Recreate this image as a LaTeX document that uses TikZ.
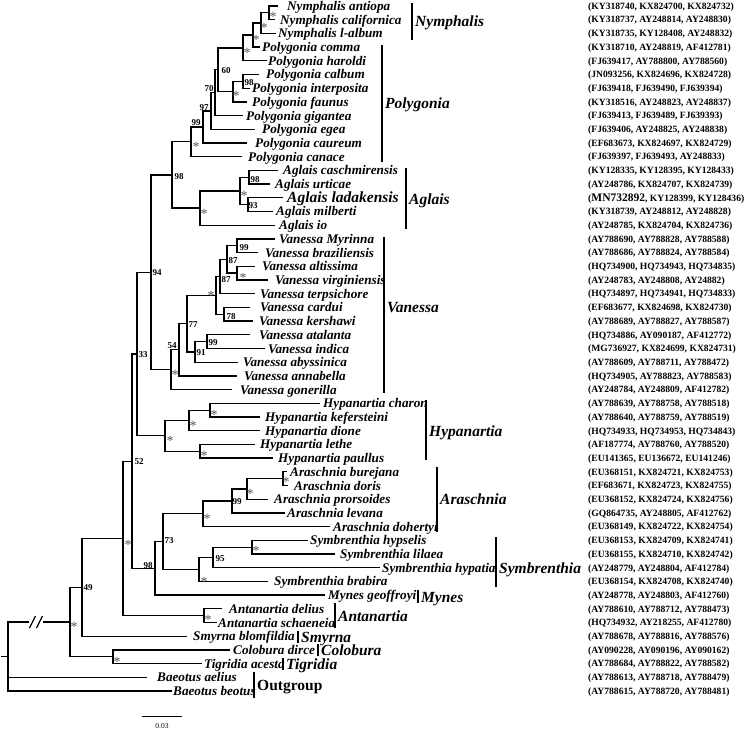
\documentclass[tikz,border=0pt]{standalone}
\usepackage{fontspec}
\setmainfont{Liberation Serif}
\usetikzlibrary{positioning}
\definecolor{stargray}{RGB}{85,85,85}
\newcommand{\rowy}[1]{6+13.7*(#1-1)}
\newcommand{\leaf}[5]{\coordinate (#1) at (#3,{\rowy{#2}}); \node[taxon] (#1l) at (#4,{\rowy{#2}}) {#5};}
\newcommand{\acc}[2]{\node[accno] (a#1) at (588,{\rowy{#1}}) {(#2)};}
\newcommand{\cladepair}[3]{\draw[branch] (#2) -| (#1) |- (#3);}
\newcommand{\bsv}[4]{\node[bsval] (#1) at (#2,#3) {#4};}
\newcommand{\bss}[3]{\node[bsstar] (#1) at (#2,#3) {*};}
\newcommand{\cladebar}[6]{\draw[cbar] (#2,#3) coordinate (#1t) -- (#2,#4) coordinate (#1b); \node[cladelab] (#1) at (#2+3,#5) {#6};}

\begin{document}
\begin{tikzpicture}[x=1pt,y=-1pt,
  branch/.style={line width=1.3pt,line join=miter},
  cbar/.style={line width=1.4pt},
  taxon/.style={anchor=base west,inner sep=0pt,yshift=-4.5pt,font=\fontsize{13.2}{15}\selectfont\bfseries\itshape},
  accno/.style={anchor=base west,inner sep=0pt,yshift=-3.3pt,font=\fontsize{9.6}{11}\selectfont\bfseries},
  cladelab/.style={anchor=base west,inner sep=0pt,yshift=-5.3pt,font=\fontsize{15.5}{17}\selectfont\bfseries\itshape},
  bsval/.style={inner sep=0pt,font=\fontsize{9}{10}\selectfont\bfseries},
  bsstar/.style={inner sep=0pt,yshift=-2.5pt,text=stargray,font=\fontsize{14}{14}\selectfont}]
\useasboundingbox (0,0) rectangle (745,730);

\leaf{tAnt}{1}{278}{287}{Nymphalis antiopa}
\leaf{tCal}{2}{275}{280}{Nymphalis californica}
\leaf{tLal}{3}{276}{278}{Nymphalis l-album}
\leaf{tCom}{4}{260}{262}{Polygonia comma}
\leaf{tHar}{5}{267}{268}{Polygonia haroldi}
\leaf{tCab}{6}{259}{266}{Polygonia calbum}
\leaf{tInt}{7}{250}{252}{Polygonia interposita}
\leaf{tFau}{8}{247}{252}{Polygonia faunus}
\leaf{tGig}{9}{243}{246}{Polygonia gigantea}
\leaf{tEge}{10}{255}{262}{Polygonia egea}
\leaf{tCau}{11}{247}{255}{Polygonia caureum}
\leaf{tCan}{12}{242}{248}{Polygonia canace}
\leaf{tCas}{13}{278}{283}{Aglais caschmirensis}
\leaf{tUrt}{14}{270}{275}{Aglais urticae}
\leaf{tLad}{15}{283}{287}{\fontsize{15.5}{17}\selectfont Aglais ladakensis}
\leaf{tMil}{16}{273}{276}{Aglais milberti}
\leaf{tIo}{17}{275}{279}{Aglais io}
\leaf{tMyr}{18}{275}{279}{Vanessa Myrinna}
\leaf{tBra}{19}{258}{265}{Vanessa braziliensis}
\leaf{tAlt}{20}{255}{262}{Vanessa altissima}
\leaf{tVir}{21}{268}{275}{Vanessa virginiensis}
\leaf{tTer}{22}{255}{260}{Vanessa terpsichore}
\leaf{tCar}{23}{250}{260}{Vanessa cardui}
\leaf{tKer}{24}{253}{259}{Vanessa kershawi}
\leaf{tAta}{25}{250}{259}{Vanessa atalanta}
\leaf{tInd}{26}{265}{268}{Vanessa indica}
\leaf{tAby}{27}{238}{243}{Vanessa abyssinica}
\leaf{tAnn}{28}{237}{244}{Vanessa annabella}
\leaf{tGon}{29}{232}{240}{Vanessa gonerilla}
\leaf{tCha}{30}{320}{323}{Hypanartia charon}
\leaf{tKef}{31}{260}{265}{Hypanartia kefersteini}
\leaf{tDio}{32}{260}{265}{Hypanartia dione}
\leaf{tLet}{33}{255}{260}{Hypanartia lethe}
\leaf{tPau}{34}{273}{278}{Hypanartia paullus}
\leaf{tBur}{35}{287}{290}{Araschnia burejana}
\leaf{tDor}{36}{288}{294}{Araschnia doris}
\leaf{tPro}{37}{268}{274}{Araschnia prorsoides}
\leaf{tLev}{38}{285}{287}{Araschnia levana}
\leaf{tDoh}{39}{330}{333}{Araschnia dohertyi}
\leaf{tHys}{40}{308}{310}{Symbrenthia hypselis}
\leaf{tLil}{41}{335}{340}{Symbrenthia lilaea}
\leaf{tHyp}{42}{380}{382}{Symbrenthia hypatia}
\leaf{tBrb}{43}{268}{274}{Symbrenthia brabira}
\leaf{tMyn}{44}{325}{328}{Mynes geoffroyi}
\leaf{tDel}{45}{222}{229}{Antanartia delius}
\leaf{tSch}{46}{217}{218}{Antanartia schaeneia}
\leaf{tSmy}{47}{187}{193}{Smyrna blomfildia}
\leaf{tCol}{48}{230}{233}{Colobura dirce}
\leaf{tTig}{49}{202}{204}{Tigridia acesta}
\leaf{tAel}{50}{147}{157}{Baeotus aelius}
\leaf{tBeo}{51}{172}{173}{Baeotus beotus}

\coordinate (nAC) at (269,12.85);   \coordinate (nNy) at (261,23.1);
\coordinate (nNc) at (253,35.1);    \coordinate (nNh) at (243,47.95);
\coordinate (nCI) at (243,81.35);   \coordinate (nCF) at (233,91.6);
\coordinate (n60) at (218,69.8);    \coordinate (n70) at (215,92.7);
\coordinate (n97) at (211,111);     \coordinate (n99) at (203,127);
\coordinate (nPol) at (191,141.85);
\coordinate (nCU) at (249,177.25);  \coordinate (nLM) at (248,204.65);
\coordinate (nAg4) at (240,190.95); \coordinate (nAg) at (200,208.1);
\coordinate (n98) at (172,174.95);
\coordinate (nMB) at (237,245.75);  \coordinate (nAV) at (237,273.15);
\coordinate (n87a) at (227,259.45); \coordinate (n87b) at (220,276.6);
\coordinate (nCK) at (224,314.25);  \coordinate (nVc) at (216,295.4);
\coordinate (n99b) at (207,341.65); \coordinate (n91) at (195,351.9);
\coordinate (n77) at (187,323.65);  \coordinate (n54) at (179,349.8);
\coordinate (nVan) at (171,369.7);  \coordinate (n94) at (151,272.3);
\coordinate (nCK2) at (210,410.15); \coordinate (nHd) at (189,420.4);
\coordinate (nLP) at (200,451.25);  \coordinate (nHyp) at (165,435.8);
\coordinate (n33) at (137,354.05);
\coordinate (nBD) at (283,478.65);  \coordinate (nBDP) at (247,488.9);
\coordinate (n99c) at (232,500.9);  \coordinate (nAr) at (203,513.75);
\coordinate (nHL) at (252,547.15);  \coordinate (n95) at (213,557.4);
\coordinate (nSy) at (199,569.4);   \coordinate (n73) at (163,541.6);
\coordinate (n98b) at (155,568.35); \coordinate (n52) at (132,461.2);
\coordinate (nAnt) at (204,615.65); \coordinate (nSt) at (123,538.4);
\coordinate (n49) at (82,587.3);    \coordinate (nCT) at (113,656.75);
\coordinate (nIn) at (70,622);
\coordinate (root) at (8,656.5);    \coordinate (rstem) at (1,656.5);
\coordinate (brkA) at (29,622);     \coordinate (brkB) at (43,622);

\cladepair{nAC}{tAnt}{tCal}
\cladepair{nNy}{nAC}{tLal}
\cladepair{nNc}{nNy}{tCom}
\cladepair{nNh}{nNc}{tHar}
\cladepair{nCI}{tCab}{tInt}
\cladepair{nCF}{nCI}{tFau}
\cladepair{n60}{nNh}{nCF}
\cladepair{n70}{n60}{tGig}
\cladepair{n97}{n70}{tEge}
\cladepair{n99}{n97}{tCau}
\cladepair{nPol}{n99}{tCan}
\cladepair{nCU}{tCas}{tUrt}
\cladepair{nLM}{tLad}{tMil}
\cladepair{nAg4}{nCU}{nLM}
\cladepair{nAg}{nAg4}{tIo}
\cladepair{n98}{nPol}{nAg}
\cladepair{nMB}{tMyr}{tBra}
\cladepair{nAV}{tAlt}{tVir}
\cladepair{n87a}{nMB}{nAV}
\cladepair{n87b}{n87a}{tTer}
\cladepair{nCK}{tCar}{tKer}
\cladepair{nVc}{n87b}{nCK}
\cladepair{n99b}{tAta}{tInd}
\cladepair{n91}{n99b}{tAby}
\cladepair{n77}{nVc}{n91}
\cladepair{n54}{n77}{tAnn}
\cladepair{nVan}{n54}{tGon}
\cladepair{n94}{n98}{nVan}
\cladepair{nCK2}{tCha}{tKef}
\cladepair{nHd}{nCK2}{tDio}
\cladepair{nLP}{tLet}{tPau}
\cladepair{nHyp}{nHd}{nLP}
\cladepair{n33}{n94}{nHyp}
\cladepair{nBD}{tBur}{tDor}
\cladepair{nBDP}{nBD}{tPro}
\cladepair{n99c}{nBDP}{tLev}
\cladepair{nAr}{n99c}{tDoh}
\cladepair{nHL}{tHys}{tLil}
\cladepair{n95}{nHL}{tHyp}
\cladepair{nSy}{n95}{tBrb}
\cladepair{n73}{nAr}{nSy}
\cladepair{n98b}{n73}{tMyn}
\cladepair{n52}{n33}{n98b}
\cladepair{nAnt}{tDel}{tSch}
\cladepair{nSt}{n52}{nAnt}
\cladepair{n49}{nSt}{tSmy}
\cladepair{nCT}{tCol}{tTig}
\cladepair{nIn}{n49}{nCT}
\draw[branch] (brkA) -| (root) |- (tBeo);
\draw[branch] (root) |- (tAel);
\draw[branch] (rstem) -- (root);
\draw[branch] (brkB) -- (nIn);
\draw[branch] ([xshift=0.5pt,yshift=-6pt]brkA) -- ([xshift=6.5pt,yshift=6pt]brkA);
\draw[branch] ([xshift=-6.5pt,yshift=-6pt]brkB) -- ([xshift=-0.5pt,yshift=6pt]brkB);

% support values
\bss{sAC}{273}{14}   \bss{sNy}{264}{25}   \bss{sNc}{256}{37}   \bss{sNh}{247}{50}
\bsv{sCI}{249}{83}{98}  \bss{sCF}{236}{93}
\bsv{s60}{226}{71}{60}  \bsv{s70}{209}{89}{70}
\bsv{s97}{204}{108}{97} \bsv{s99}{196}{123}{99} \bss{sPol}{196}{144}
\bsv{sCU}{255}{180}{98} \bsv{sLM}{253}{206}{93}
\bss{sAg4}{244}{193}    \bss{sAg}{204}{211}
\bsv{s98}{179}{177}{98} \bsv{s94}{157}{273}{94}
\bsv{sMB}{244}{248}{99} \bss{sAV}{243}{275}
\bsv{s87a}{233}{261}{87} \bsv{s87b}{226}{280}{87}
\bsv{sCK}{231}{317}{78} \bss{sVc}{211}{293}
\bsv{s99b}{213}{343}{99} \bsv{s91}{201}{353}{91}
\bsv{s77}{193}{325}{77} \bsv{s54}{172}{346}{54} \bss{sVan}{175}{372}
\bss{sCK2}{214}{412} \bss{sHd}{193}{423} \bss{sLP}{204}{453} \bss{sHyp}{170}{438}
\bsv{s33}{143}{355}{33} \bsv{s52}{139}{462}{52}
\bss{sBD}{286}{479} \bss{sBDP}{250}{491} \bsv{s99c}{237}{502}{99} \bss{sAr}{207}{516}
\bss{sHL}{256}{548} \bsv{s95}{220}{559}{95} \bss{sSy}{204}{579}
\bsv{s73}{169}{541}{73} \bsv{s98b}{148}{566}{98} \bss{sSt}{128}{542}
\bss{sAnt}{208}{617} \bsv{s49}{88}{588}{49} \bss{sIn}{74}{624} \bss{sCT}{117}{659}

% clade bars
\cladebar{cNym}{412}{3}{40}{21}{Nymphalis}
\cladebar{cPol}{382}{45}{162}{103}{Polygonia}
\cladebar{cAgl}{406}{168}{229}{199}{Aglais}
\cladebar{cVan}{384}{237}{393}{307}{Vanessa}
\cladebar{cHyp}{426}{400}{460}{431}{Hypanartia}
\cladebar{cAra}{437}{467}{532}{499}{Araschnia}
\cladebar{cSym}{496}{537}{587}{568}{Symbrenthia}
\cladebar{cMyn}{418}{590}{603}{597}{Mynes}
\cladebar{cAnt}{335}{603}{628}{616}{Antanartia}
\cladebar{cSmy}{298}{631}{643}{637}{Smyrna}
\cladebar{cCol}{318}{644}{656}{650}{Colobura}
\cladebar{cTig}{283}{658}{670}{664}{Tigridia}
\cladebar{cOut}{254}{672}{698}{685}{\upshape Outgroup}

\acc{1}{KY318740, KX824700, KX824732}
\acc{2}{KY318737, AY248814, AY248830}
\acc{3}{KY318735, KY128408, AY248832}
\acc{4}{KY318710, AY248819, AF412781}
\acc{5}{FJ639417, AY788800, AY788560}
\acc{6}{JN093256, KX824696, KX824728}
\acc{7}{FJ639418, FJ639490, FJ639394}
\acc{8}{KY318516, AY248823, AY248837}
\acc{9}{FJ639413, FJ639489, FJ639393}
\acc{10}{FJ639406, AY248825, AY248838}
\acc{11}{EF683673, KX824697, KX824729}
\acc{12}{FJ639397, FJ639493, AY248833}
\acc{13}{KY128335, KY128395, KY128433}
\acc{14}{AY248786, KX824707, KX824739}
\acc{15}{{\fontsize{11.5}{12}\selectfont MN732892}, KY128399, KY128436}
\acc{16}{KY318739, AY248812, AY248828}
\acc{17}{AY248785, KX824704, KX824736}
\acc{18}{AY788690, AY788828, AY788588}
\acc{19}{AY788686, AY788824, AY788584}
\acc{20}{HQ734900, HQ734943, HQ734835}
\acc{21}{AY248783, AY248808, AY24882}
\acc{22}{HQ734897, HQ734941, HQ734833}
\acc{23}{EF683677, KX824698, KX824730}
\acc{24}{AY788689, AY788827, AY788587}
\acc{25}{HQ734886, AY090187, AF412772}
\acc{26}{MG736927, KX824699, KX824731}
\acc{27}{AY788609, AY788711, AY788472}
\acc{28}{HQ734905, AY788823, AY788583}
\acc{29}{AY248784, AY248809, AF412782}
\acc{30}{AY788639, AY788758, AY788518}
\acc{31}{AY788640, AY788759, AY788519}
\acc{32}{HQ734933, HQ734953, HQ734843}
\acc{33}{AF187774, AY788760, AY788520}
\acc{34}{EU141365, EU136672, EU141246}
\acc{35}{EU368151, KX824721, KX824753}
\acc{36}{EF683671, KX824723, KX824755}
\acc{37}{EU368152, KX824724, KX824756}
\acc{38}{GQ864735, AY248805, AF412762}
\acc{39}{EU368149, KX824722, KX824754}
\acc{40}{EU368153, KX824709, KX824741}
\acc{41}{EU368155, KX824710, KX824742}
\acc{42}{AY248779, AY248804, AF412784}
\acc{43}{EU368154, KX824708, KX824740}
\acc{44}{AY248778, AY248803, AF412760}
\acc{45}{AY788610, AY788712, AY788473}
\acc{46}{HQ734932, AY218255, AF412780}
\acc{47}{AY788678, AY788816, AY788576}
\acc{48}{AY090228, AY090196, AY090162}
\acc{49}{AY788684, AY788822, AY788582}
\acc{50}{AY788613, AY788718, AY788479}
\acc{51}{AY788615, AY788720, AY788481}

% scale bar
\coordinate (sbL) at (142,716); \coordinate (sbR) at (182,716);
\draw[line width=0.9pt] (sbL) -- (sbR);
\node[inner sep=0pt,font=\fontsize{7.5}{8}\selectfont] (sbT) at (162,726) {0.03};
\end{tikzpicture}
\end{document}
